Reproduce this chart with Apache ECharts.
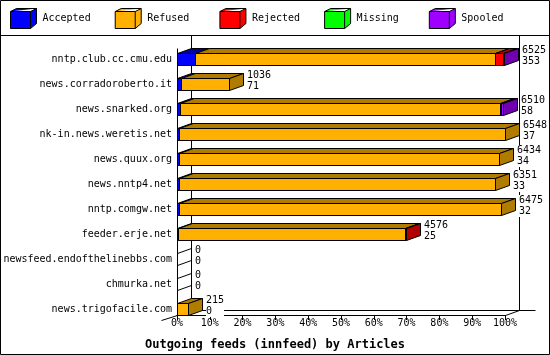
<!DOCTYPE html>
<html><head><meta charset="utf-8">
<script src="https://cdn.jsdelivr.net/npm/echarts@6/dist/echarts.min.js"></script>
<style>html,body{margin:0;padding:0;background:#fff}#c{width:550px;height:355px}</style>
</head><body><div id="c"></div>
<script>
const categories = ['nntp.club.cc.cmu.edu','news.corradoroberto.it','news.snarked.org','nk-in.news.weretis.net','news.quux.org','news.nntp4.net','nntp.comgw.net','feeder.erje.net','newsfeed.endofthelinebbs.com','chmurka.net','news.trigofacile.com'];
const accepted = [353, 71, 58, 37, 34, 33, 32, 25, 0, 0, 0];
const refused  = [5997, 965, 6392, 6511, 6400, 6318, 6443, 4536, 0, 0, 215];
const rejected = [150, 0, 15, 0, 0, 0, 0, 15, 0, 0, 0];
const missing  = [0, 0, 0, 0, 0, 0, 0, 0, 0, 0, 0];
const spooled  = [25, 0, 45, 0, 0, 0, 0, 0, 0, 0, 0];
const xTicks = [0, 10, 20, 30, 40, 50, 60, 70, 80, 90, 100];
const seriesNames = ['Accepted','Refused','Rejected','Missing','Spooled'];
const frontColors = ['#0000FF','#FFB000','#FF0000','#00FF00','#A000FF'];
const darkColors  = ['#0000A0','#B07C00','#B00000','#00A000','#7000B0'];
const segs = [accepted, refused, rejected, missing, spooled];
const totals = categories.map((c,i)=>segs.reduce((a,s)=>a+s[i],0));
const maxTotal = Math.max(...totals);
const DX = 14, DY = 5;
const MONO = '"DejaVu Sans Mono", "Liberation Mono", monospace';
const px = v => Math.round(v) + 0.5;

const chart = echarts.init(document.getElementById('c'), null, {renderer:'canvas'});

function segRender(s){
  return function(params, api){
    const i = params.dataIndex;
    const v = segs[s][i];
    if (!v) return null;
    let start = 0; for (let k=0;k<s;k++) start += segs[k][i];
    const end = start + v;
    let isLast = true; for (let k=s+1;k<segs.length;k++) if (segs[k][i]) isLast = false;
    const a = api.coord([start/maxTotal*100, i]);
    const b = api.coord([end/maxTotal*100, i]);
    const hh = api.size([0,1])[1]*0.24;
    const xa = px(a[0]), xb = px(b[0]);
    const yt = px(a[1]-hh), yb = px(a[1]+hh);
    const st = {fill: frontColors[s], stroke:'#000', lineWidth:1};
    const dk = {fill: darkColors[s], stroke:'#000', lineWidth:1};
    const ch = [
      {type:'polygon', shape:{points:[[xa,yt],[xa+DX,yt-DY],[xb+DX,yt-DY],[xb,yt]]}, style:dk},
      {type:'rect', shape:{x:xa,y:yt,width:xb-xa,height:yb-yt}, style:st}
    ];
    if (isLast) ch.push({type:'polygon', shape:{points:[[xb,yt],[xb+DX,yt-DY],[xb+DX,yb-DY],[xb,yb]]}, style:dk});
    return {type:'group', children:ch};
  };
}

const series = seriesNames.map((n,s)=>({
  name:n, type:'custom', coordinateSystem:'cartesian2d',
  itemStyle:{color:frontColors[s]},
  encode:{x:0,y:1},
  data: categories.map((c,i)=>[0,i]),
  renderItem: segRender(s), z:3, silent:true
}));

// frame (walls, floor) through the axes
series.push({
  name:'frame', type:'custom', coordinateSystem:'cartesian2d', z:1, silent:true,
  encode:{x:0,y:1}, data:[[0,0]],
  renderItem:function(params, api){
    const n = categories.length;
    const hh = api.size([0,1])[1]*0.24;
    const p0 = api.coord([0, n-1]);
    const p1 = api.coord([100, n-1]);
    const first = api.coord([0,0]);
    const x0 = px(p0[0]), x1 = px(p1[0]);
    const yF = px(p0[1]+hh);
    const yTop = 35;
    const ls = {stroke:'#000', lineWidth:1};
    const L = (x1_,y1_,x2_,y2_)=>({type:'line', shape:{x1:x1_,y1:y1_,x2:x2_,y2:y2_}, style:ls});
    const ch = [
      L(x0+DX, yTop, x0+DX, yF-DY),
      L(x1+DX, yTop, x1+DX, yF-DY),
      L(x0+DX, yF-DY, x1+DX+16, yF-DY),
      L(x1, yF, x1+DX, yF-DY),
      L(x0, px(first[1]-hh-DY), x0, yF),
      L(x0, yF, x0-16, yF+DY)
    ];
    for (let i=0;i<n;i++){
      if (totals[i]===0){
        const c = api.coord([0,i]);
        const yt = px(c[1]-hh), yb = px(c[1]+hh);
        ch.push(L(x0,yt,x0+DX,yt-DY));
        ch.push(L(x0,yb,x0+DX,yb-DY));
      }
    }
    return {type:'group', children:ch};
  }
});

// value labels
series.push({
  name:'labels', type:'custom', coordinateSystem:'cartesian2d', z:5, silent:true,
  encode:{x:0,y:1}, data: categories.map((c,i)=>[0,i]),
  renderItem:function(params, api){
    const i = params.dataIndex;
    const e = api.coord([totals[i]/maxTotal*100, i]);
    return {type:'text', style:{
      text: totals[i] + '\n' + accepted[i],
      x: Math.round(e[0]) + DX + 4, y: Math.round(e[1] - 14.5),
      font: '10px ' + MONO, fill:'#000', lineHeight:11,
      verticalAlign:'top', align:'left', backgroundColor:'#fff'
    }};
  }
});

const legendIcon = 'path://M0,3 L6,0 L26,0 L26,15 L20,20 L0,20 Z M0,3 L20,3 L26,0 M20,3 L20,20';

chart.setOption({
  animation:false,
  backgroundColor:'#fff',
  title:{text:'Outgoing feeds (innfeed) by Articles', left:'center', top:334,
    textStyle:{fontFamily:MONO, fontSize:12, fontWeight:'bold', color:'#000'}},
  legend:{left:10, top:8, padding:0, itemWidth:26, itemHeight:21, itemGap:12, selectedMode:false,
    data: seriesNames.map((n,s)=>({name:n, icon:legendIcon,
      itemStyle:{color:frontColors[s], borderColor:'#000', borderWidth:1}})),
    formatter: name => name + '\u00a0'.repeat(10 - name.length),
    textStyle:{fontFamily:MONO, fontSize:10, color:'#000', padding:[5,0,0,1]}},
  grid:{left:177, right:45, top:46.5, bottom:33.5, containLabel:false},
  xAxis:{type:'value', min:0, max:100, interval:10, offset:-6.5,
    axisLine:{show:true, lineStyle:{color:'#000', width:1}},
    axisTick:{show:true, length:5, lineStyle:{color:'#000'}},
    splitLine:{show:false},
    axisLabel:{color:'#000', fontFamily:MONO, fontSize:10, margin:3,
      formatter:v=> xTicks.includes(v) ? v + '%' : ''}},
  yAxis:{type:'category', inverse:true, data:categories,
    axisLine:{show:false}, axisTick:{show:false}, splitLine:{show:false},
    axisLabel:{color:'#000', fontFamily:MONO, fontSize:10, margin:5}},
  graphic:[
    {type:'rect', z:100, shape:{x:0.5,y:0.5,width:549,height:354}, style:{fill:null, stroke:'#000', lineWidth:1}, silent:true},
    {type:'line', z:100, shape:{x1:0,y1:35.5,x2:550,y2:35.5}, style:{stroke:'#000', lineWidth:1}, silent:true}
  ],
  series: series
});
</script></body></html>
